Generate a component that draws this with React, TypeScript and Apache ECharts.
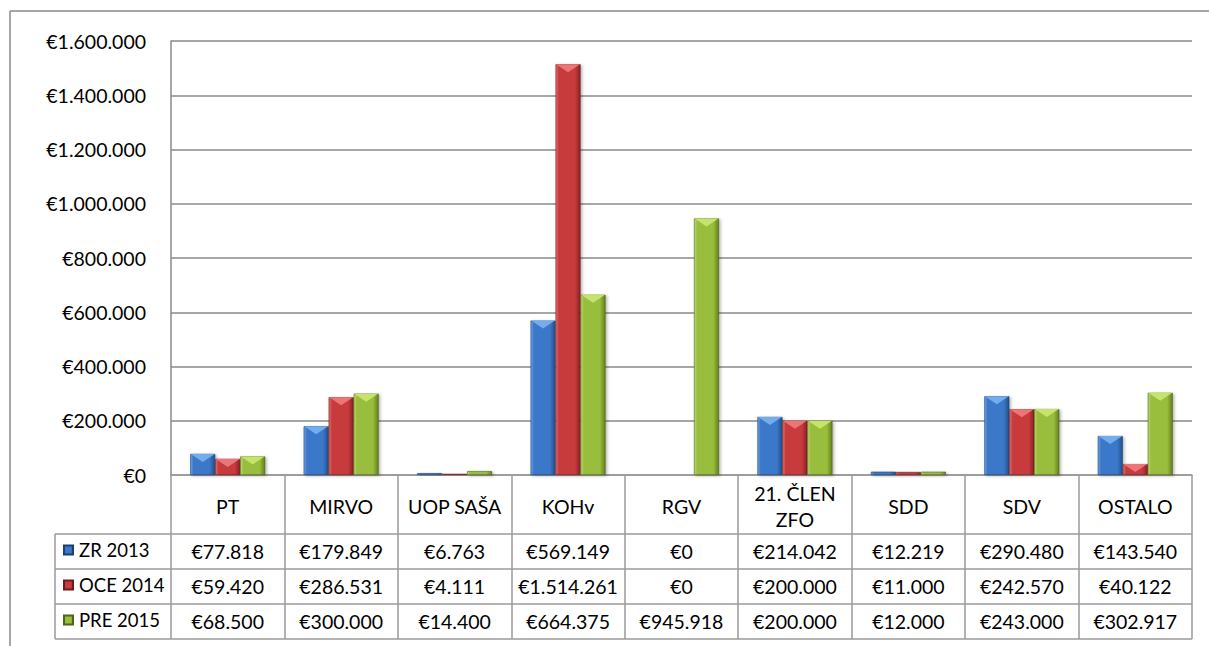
import React, { useEffect, useRef } from 'react';
import * as echarts from 'echarts';

const categories = ['PT', 'MIRVO', 'UOP SAŠA', 'KOHv', 'RGV', '21. ČLEN\nZFO', 'SDD', 'SDV', 'OSTALO'];
const seriesNames = ['ZR 2013', 'OCE 2014', 'PRE 2015'];
const zr2013 = [77818, 179849, 6763, 569149, 0, 214042, 12219, 290480, 143540];
const oce2014 = [59420, 286531, 4111, 1514261, 0, 200000, 11000, 242570, 40122];
const pre2015 = [68500, 300000, 14400, 664375, 945918, 200000, 12000, 243000, 302917];
const seriesValues = [zr2013, oce2014, pre2015];
const yMin = 0;
const yMax = 1600000;
const yInterval = 200000;

const FONT = 'Lato, "Liberation Sans", sans-serif';
const FS = 19.5;

const palette = [
  { light: '#6fa6e6', main: '#3b78c9', dark: '#244f8a', edge: '#1d3f70', tri: '#7ab2f2' },
  { light: '#e57373', main: '#c83b3d', dark: '#8a2224', edge: '#6e1a1b', tri: '#f27c7c' },
  { light: '#c0dd70', main: '#99bd3c', dark: '#63801f', edge: '#4d6518', tri: '#cbe870' },
];

const euro = (v: number) => '€' + String(v).replace(/\B(?=(\d{3})+(?!\d))/g, '.');

export default function App() {
  const ref = useRef<HTMLDivElement>(null);
  useEffect(() => {
    document.body.style.margin = '0';
    const chart = echarts.init(ref.current!, null, { renderer: 'svg' });
    const gridLeft = 171;
    const gridRight = 1192;
    const gridTop = 41;
    const gridBottomY = 475;
    const tableLeft = 55;
    const rowLines = [534, 569, 604, 639];
    const rowCenters = [551.5, 586.5, 621.5];
    const lineColor = '#9a9a9a';

    const barSeries: any[] = seriesValues.map((vals, i) => ({
      type: 'bar',
      name: seriesNames[i],
      data: vals,
      barWidth: 25,
      barGap: '0%',
      itemStyle: {
        color: new echarts.graphic.LinearGradient(0, 0, 1, 0, [
          { offset: 0, color: palette[i].light },
          { offset: 0.12, color: palette[i].main },
          { offset: 0.78, color: palette[i].main },
          { offset: 1, color: palette[i].dark },
        ]),
        borderColor: palette[i].edge,
        borderWidth: 0.6,
        shadowColor: 'rgba(0,0,0,0.3)',
        shadowBlur: 3,
        shadowOffsetX: 1.5,
        shadowOffsetY: 1,
      },
    }));
    const capSeries: any[] = seriesValues.map((vals, i) => ({
      type: 'pictorialBar',
      name: seriesNames[i] + ' cap',
      data: vals.map((v) => (v > 20000 ? v : '-')),
      barWidth: 25,
      barGap: '0%',
      symbol: 'path://M0,0 L20,0 L10,6 Z',
      symbolSize: [24, 8],
      symbolPosition: 'end',
      symbolOffset: [0, 0],
      itemStyle: { color: palette[i].tri, opacity: 0.9 },
      silent: true,
      z: 3,
    }));

    chart.setOption({
      animation: false,
      grid: { left: gridLeft, right: 1209 - gridRight, top: gridTop, bottom: 646 - gridBottomY, containLabel: false },
      legend: seriesNames.map((n, i) => ({
        data: [n],
        left: 63,
        top: rowCenters[i] - 11,
        orient: 'vertical',
        icon: 'rect',
        itemWidth: 9,
        itemHeight: 9,
        padding: 0,
        selectedMode: false,
        textStyle: { fontSize: 18.5, fontFamily: FONT, color: '#000', padding: [0, 0, 0, 1] },
      })),
      xAxis: {
        type: 'category',
        data: categories,
        axisLine: { show: true, lineStyle: { color: lineColor, width: 1.5 } },
        axisTick: { show: true, length: rowLines[3] - gridBottomY, lineStyle: { color: lineColor, width: 1.5 } },
        axisLabel: {
          margin: 31,
          verticalAlign: 'middle',
          fontSize: FS,
          lineHeight: 26,
          fontFamily: FONT,
          color: '#000',
          interval: 0,
        },
      },
      yAxis: {
        type: 'value',
        min: yMin,
        max: yMax,
        interval: yInterval,
        axisLine: { show: true, lineStyle: { color: '#8a8a8a', width: 1.5 } },
        axisTick: { show: false },
        splitLine: { lineStyle: { color: '#8a8a8a', width: 1.5 } },
        axisLabel: { margin: 25, fontSize: FS, fontFamily: FONT, color: '#000', formatter: (v: number) => euro(v) },
      },
      series: [...barSeries, ...capSeries],
    });

    const graphic: any[] = [
      { type: 'line', shape: { x1: 10, y1: 11, x2: 1209, y2: 11 }, style: { stroke: '#8a8a8a', lineWidth: 1.5 } },
      { type: 'line', shape: { x1: 10, y1: 11, x2: 10, y2: 646 }, style: { stroke: '#8a8a8a', lineWidth: 1.5 } },
      { type: 'line', shape: { x1: tableLeft, y1: rowLines[0], x2: tableLeft, y2: rowLines[3] }, style: { stroke: lineColor, lineWidth: 1.5 } },
    ];
    rowLines.forEach((y) => {
      graphic.push({ type: 'line', shape: { x1: tableLeft, y1: y, x2: gridRight, y2: y }, style: { stroke: lineColor, lineWidth: 1.5 } });
    });
    seriesValues.forEach((vals, si) => {
      vals.forEach((v, ci) => {
        const x = chart.convertToPixel({ xAxisIndex: 0 }, ci) as number;
        graphic.push({
          type: 'text',
          x,
          y: rowCenters[si],
          style: { text: euro(v), fontSize: FS, fontFamily: FONT, fill: '#000', align: 'center', verticalAlign: 'middle' },
        });
      });
    });
    chart.setOption({ graphic });

    return () => chart.dispose();
  }, []);
  return <div ref={ref} style={{ width: 1209, height: 646 }} />;
}
